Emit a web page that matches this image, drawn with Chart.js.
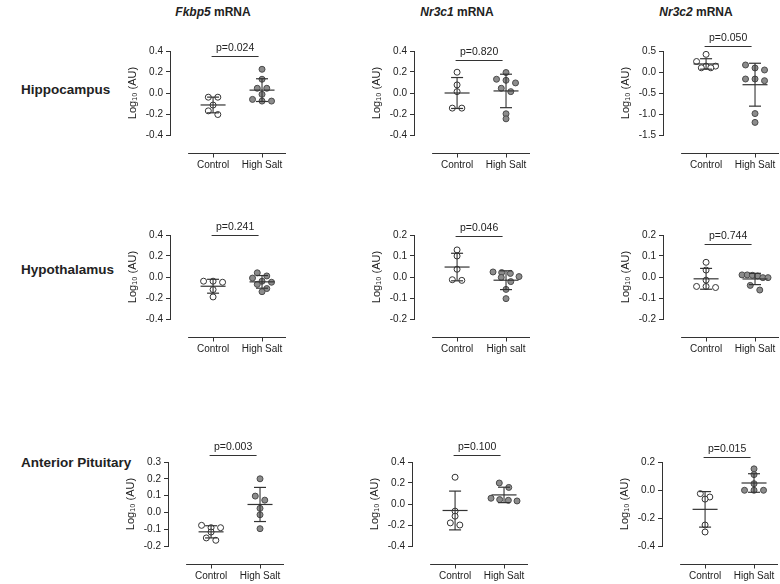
<!DOCTYPE html>
<html>
<head>
<meta charset="utf-8">
<script src="https://cdn.jsdelivr.net/npm/chart.js@4.4.1/dist/chart.umd.min.js"></script>
<style>
  body { margin: 0; background: #fff; }
  #page { position: relative; width: 780px; height: 584px; overflow: hidden; font-family: "Liberation Sans", Arial, sans-serif; color: #222; }
  .panel { position: absolute; }
  .head { position: absolute; font-weight: bold; font-size: 12px; transform: translate(-50%, -50%); white-space: nowrap; }
  .rowlab { position: absolute; font-weight: bold; font-size: 13.5px; transform: translateY(-50%); white-space: nowrap; }
</style>
</head>
<body>
<div id="page">
  <div class="head" style="left:213px;top:12px"><i>Fkbp5</i> mRNA</div>
  <div class="head" style="left:457px;top:12px"><i>Nr3c1</i> mRNA</div>
  <div class="head" style="left:696px;top:12px"><i>Nr3c2</i> mRNA</div>
  <div class="rowlab" style="left:21px;top:89px">Hippocampus</div>
  <div class="rowlab" style="left:21px;top:269px">Hypothalamus</div>
  <div class="rowlab" style="left:21px;top:462px">Anterior Pituitary</div>
</div>
<script>
// group labels
const groups = ["Control", "High Salt"];
const groupsLower = ["Control", "High salt"];

// log10 expression values
const hippoFkbp5Control = [-0.04, -0.04, -0.115, -0.17, -0.205];
const hippoFkbp5Salt = [0.226, 0.131, 0.045, 0.045, -0.013, -0.061, -0.077, -0.077];
const hippoNr3c1Control = [0.198, 0.077, 0.013, -0.144, -0.144];
const hippoNr3c1Salt = [0.195, 0.131, 0.121, 0.096, 0.045, 0.013, -0.198, -0.246];
const hippoNr3c2Control = [0.42, 0.25, 0.14, 0.14, 0.10, 0.10];
const hippoNr3c2Salt = [0.167, 0.096, 0.048, -0.167, -0.167, -0.207, -0.99, -1.2];

const hypoFkbp5Control = [-0.04, -0.04, -0.05, -0.12, -0.19];
const hypoFkbp5Salt = [0.04, 0.01, -0.01, -0.04, -0.05, -0.07, -0.11, -0.14];
const hypoNr3c1Control = [0.129, 0.1, 0.037, -0.013, -0.016];
const hypoNr3c1Salt = [0.024, 0.021, 0.017, 0.002, -0.002, -0.022, -0.059, -0.103];
const hypoNr3c2Control = [0.07, 0.033, -0.015, -0.045, -0.05, -0.045];
const hypoNr3c2Salt = [0.01, 0.01, 0.008, 0.005, -0.003, -0.003, -0.04, -0.062];

const apFkbp5Control = [-0.077, -0.091, -0.091, -0.117, -0.152, -0.166];
const apFkbp5Salt = [0.2, 0.097, 0.073, 0.024, -0.014, -0.097];
const apNr3c1Control = [0.255, -0.068, -0.116, -0.18, -0.2];
const apNr3c1Salt = [0.2, 0.158, 0.055, 0.042, 0.035, 0.029];
const apNr3c2Control = [-0.026, -0.05, -0.065, -0.25, -0.30];
const apNr3c2Salt = [0.151, 0.11, 0.045, -0.002, -0.002, -0.002];

// y tick labels
const ticks04 = [-0.4, -0.2, 0, 0.2, 0.4];
const ticks02 = [-0.2, -0.1, 0, 0.1, 0.2];
const ticks15 = [-1.5, -1.0, -0.5, 0, 0.5];
const ticks03 = [-0.2, -0.1, 0, 0.1, 0.2, 0.3];
const ticks42 = [-0.4, -0.2, 0, 0.2];

const pValues = ["0.024", "0.820", "0.050", "0.241", "0.046", "0.744", "0.003", "0.100", "0.015"];
const bracketLevels = [0.355, 0.311, 0.62, 0.4, 0.195, 0.156, 0.343, 0.465, 0.233];

const panels = [
  [hippoFkbp5Control, hippoFkbp5Salt, ticks04, groups],
  [hippoNr3c1Control, hippoNr3c1Salt, ticks04, groups],
  [hippoNr3c2Control, hippoNr3c2Salt, ticks15, groups],
  [hypoFkbp5Control, hypoFkbp5Salt, ticks04, groups],
  [hypoNr3c1Control, hypoNr3c1Salt, ticks02, groupsLower],
  [hypoNr3c2Control, hypoNr3c2Salt, ticks02, groups],
  [apFkbp5Control, apFkbp5Salt, ticks03, groups],
  [apNr3c1Control, apNr3c1Salt, ticks04, groups],
  [apNr3c2Control, apNr3c2Salt, ticks42, groups]
];

// where each y axis sits (x) and its top tick (y)
const spots = [[170, 51], [414, 51], [663, 51], [170, 235], [414, 235], [663, 235], [168, 462], [412, 462], [662, 462]];

const AREA_W = 116, AREA_H = 84;
const X_MIN = 0.12, X_MAX = 2.49;
const PAD_RIGHT = 44;

Chart.defaults.font.family = '"Liberation Sans", Arial, sans-serif';
Chart.defaults.font.size = 10;
Chart.defaults.color = "#222";

function meanSd(arr) {
  const m = arr.reduce((a, b) => a + b, 0) / arr.length;
  const v = arr.reduce((a, b) => a + (b - m) * (b - m), 0) / (arr.length - 1);
  return [m, Math.sqrt(v)];
}

// prism-like horizontal spread: points of similar value share a row
function spread(values, pxPerUnit) {
  const order = values.map((v, i) => i).sort((a, b) => values[b] - values[a]);
  const offsets = new Array(values.length).fill(0);
  let row = [];
  const flush = () => {
    const n = row.length;
    const gap = n > 1 ? Math.min(9.5, 26 / (n - 1)) : 0;
    row.forEach((idx, k) => { offsets[idx] = (k - (n - 1) / 2) * gap; });
    row = [];
  };
  order.forEach(idx => {
    if (row.length && (values[row[0]] - values[idx]) * pxPerUnit > 5) flush();
    row.push(idx);
  });
  flush();
  return offsets;
}

const prismAxes = {
  id: "prismAxes",
  afterDraw(chart, args, opts) {
    const { ctx, chartArea, scales: { x, y } } = chart;
    ctx.save();
    ctx.strokeStyle = "#333";
    ctx.lineWidth = 1;
    const base = Math.round(chartArea.bottom + 18) + 0.5;
    ctx.beginPath();
    ctx.moveTo(x.getPixelForValue(0.49), base);
    ctx.lineTo(chartArea.right, base);
    [1, 2].forEach(v => {
      const px = Math.round(x.getPixelForValue(v)) + 0.5;
      ctx.moveTo(px, base);
      ctx.lineTo(px, base + 4);
    });
    ctx.stroke();

    const by = Math.round(y.getPixelForValue(opts.level)) + 0.5;
    ctx.beginPath();
    ctx.moveTo(x.getPixelForValue(0.97), by);
    ctx.lineTo(x.getPixelForValue(1.93), by);
    ctx.stroke();
    ctx.fillStyle = "#222";
    ctx.font = '10.5px "Liberation Sans", Arial, sans-serif';
    ctx.textAlign = "center";
    ctx.fillText("p=" + opts.p, x.getPixelForValue(1.45), by - 5.5);
    ctx.restore();
  }
};

const page = document.getElementById("page");

panels.forEach((panel, i) => {
  const [control, salt, yTicks, labels] = panel;
  const yMin = yTicks[0], yMax = yTicks[yTicks.length - 1];
  const pxPerY = AREA_H / (yMax - yMin);
  const pxPerX = AREA_W / (X_MAX - X_MIN);

  const box = document.createElement("div");
  box.className = "panel";
  box.style.left = (spots[i][0] - 60) + "px";
  box.style.top = (spots[i][1] - 40) + "px";
  const canvas = document.createElement("canvas");
  canvas.width = 60 + AREA_W + PAD_RIGHT;
  canvas.height = 40 + AREA_H + 40;
  box.appendChild(canvas);
  page.appendChild(box);

  const stats = [meanSd(control), meanSd(salt)];
  const dots = (vals, gx) => {
    const off = spread(vals, pxPerY);
    return vals.map((v, k) => ({ x: gx + off[k] / pxPerX, y: v }));
  };

  const datasets = [
    {
      data: stats.map((s, g) => ({ x: g + 1, y: s[0] })),
      pointStyle: "line", pointRadius: 12.5, borderColor: "#333", borderWidth: 1.2
    },
    {
      data: stats.flatMap((s, g) => [{ x: g + 1, y: s[0] - s[1] }, { x: g + 1, y: s[0] + s[1] }]),
      pointStyle: "line", pointRadius: 6, borderColor: "#333", borderWidth: 1.2
    },
    ...stats.map((s, g) => ({
      data: [{ x: g + 1, y: s[0] - s[1] }, { x: g + 1, y: s[0] + s[1] }],
      showLine: true, pointRadius: 0, borderColor: "#333", borderWidth: 1.1
    })),
    {
      data: dots(control, 1),
      pointRadius: 3, backgroundColor: "#fff", borderColor: "#333", borderWidth: 1
    },
    {
      data: dots(salt, 2),
      pointRadius: 3, backgroundColor: "#8c8c8c", borderColor: "#4a4a4a", borderWidth: 1
    }
  ];

  new Chart(canvas, {
    type: "scatter",
    data: { datasets },
    plugins: [prismAxes],
    options: {
      responsive: false,
      animation: false,
      devicePixelRatio: 1,
      clip: false,
      layout: { padding: { top: 40, left: 10, right: PAD_RIGHT, bottom: 0 } },
      plugins: {
        legend: { display: false },
        tooltip: { enabled: false },
        prismAxes: { level: bracketLevels[i], p: pValues[i] }
      },
      scales: {
        x: {
          type: "linear", min: X_MIN, max: X_MAX,
          afterBuildTicks: s => { s.ticks = [{ value: 1 }, { value: 2 }]; },
          afterFit: s => { s.height = 40; },
          grid: { display: false, drawTicks: false },
          border: { display: false },
          ticks: { padding: 24, maxRotation: 0, autoSkip: false, callback: (v, k) => labels[k] }
        },
        y: {
          min: yMin, max: yMax,
          afterBuildTicks: s => { s.ticks = yTicks.map(v => ({ value: v })); },
          afterFit: s => { s.width = 50; },
          grid: { display: true, drawOnChartArea: false, drawTicks: true, tickLength: 4, color: "#333" },
          border: { display: true, color: "#333", width: 1 },
          ticks: { padding: 3, autoSkip: false, callback: v => v.toFixed(1) },
          title: { display: true, text: "Log\u2081\u2080 (AU)", font: { size: 11 }, padding: { top: 6, bottom: 0 } }
        }
      }
    }
  });
});
</script>
</body>
</html>
